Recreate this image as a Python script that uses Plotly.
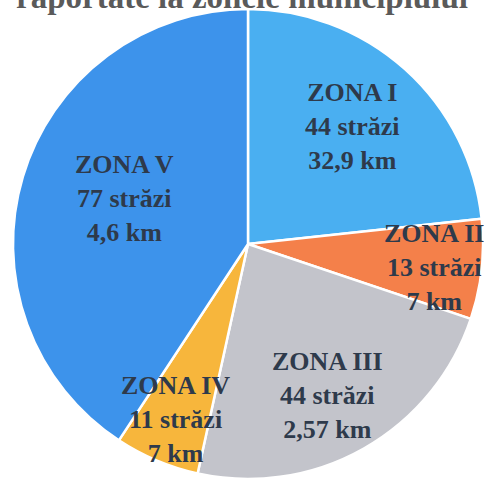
import plotly.graph_objects as go

# Streets per municipal zone
zones = ["ZONA I", "ZONA II", "ZONA III", "ZONA IV", "ZONA V"]
streets = [44, 13, 44, 11, 77]
km = [32.9, 7, 2.57, 7, 4.6]
colors = ["#4AAFF1", "#F4804A", "#C3C4CB", "#F7B63C", "#3D93EB"]

title_text = "raportate la zonele municipiului"

W, H = 484, 479
cx, cy, r = 248, 244, 235  # pie centre and radius in pixels

fig = go.Figure(
    go.Pie(
        labels=zones,
        values=streets,
        sort=False,
        direction="clockwise",
        rotation=0,
        marker=dict(colors=colors, line=dict(color="white", width=2.5)),
        textinfo="none",
        hoverinfo="label+value",
        showlegend=False,
        domain=dict(
            x=[(cx - r) / W, (cx + r) / W],
            y=[(H - cy - r) / H, (H - cy + r) / H],
        ),
    )
)


def fmt_km(v):
    s = f"{v:g}".replace(".", ",")
    return f"{s} km"


# label centres (pixels from top-left)
label_pos = [(352, 126), (434, 267), (327, 395), (175, 419), (125, 198)]

for z, s, k, (px, py) in zip(zones, streets, km, label_pos):
    fig.add_annotation(
        x=px / W,
        y=1 - py / H,
        xref="paper",
        yref="paper",
        text=f"{z}<br>{s} străzi<br>{fmt_km(k)}",
        showarrow=False,
        xanchor="center",
        yanchor="middle",
        align="center",
        font=dict(family="Liberation Serif", size=26, color="#2E3A4B", weight="bold"),
    )

fig.add_annotation(
    x=242 / W,
    y=1,
    xref="paper",
    yref="paper",
    text=title_text,
    showarrow=False,
    xanchor="center",
    yanchor="middle",
    yshift=3,
    font=dict(family="Liberation Serif", size=33, color="#5A5A5A", weight="bold"),
)

fig.update_layout(
    width=W,
    height=H,
    margin=dict(l=0, r=0, t=0, b=0),
    paper_bgcolor="white",
    plot_bgcolor="white",
)

fig.write_html("out.html")
